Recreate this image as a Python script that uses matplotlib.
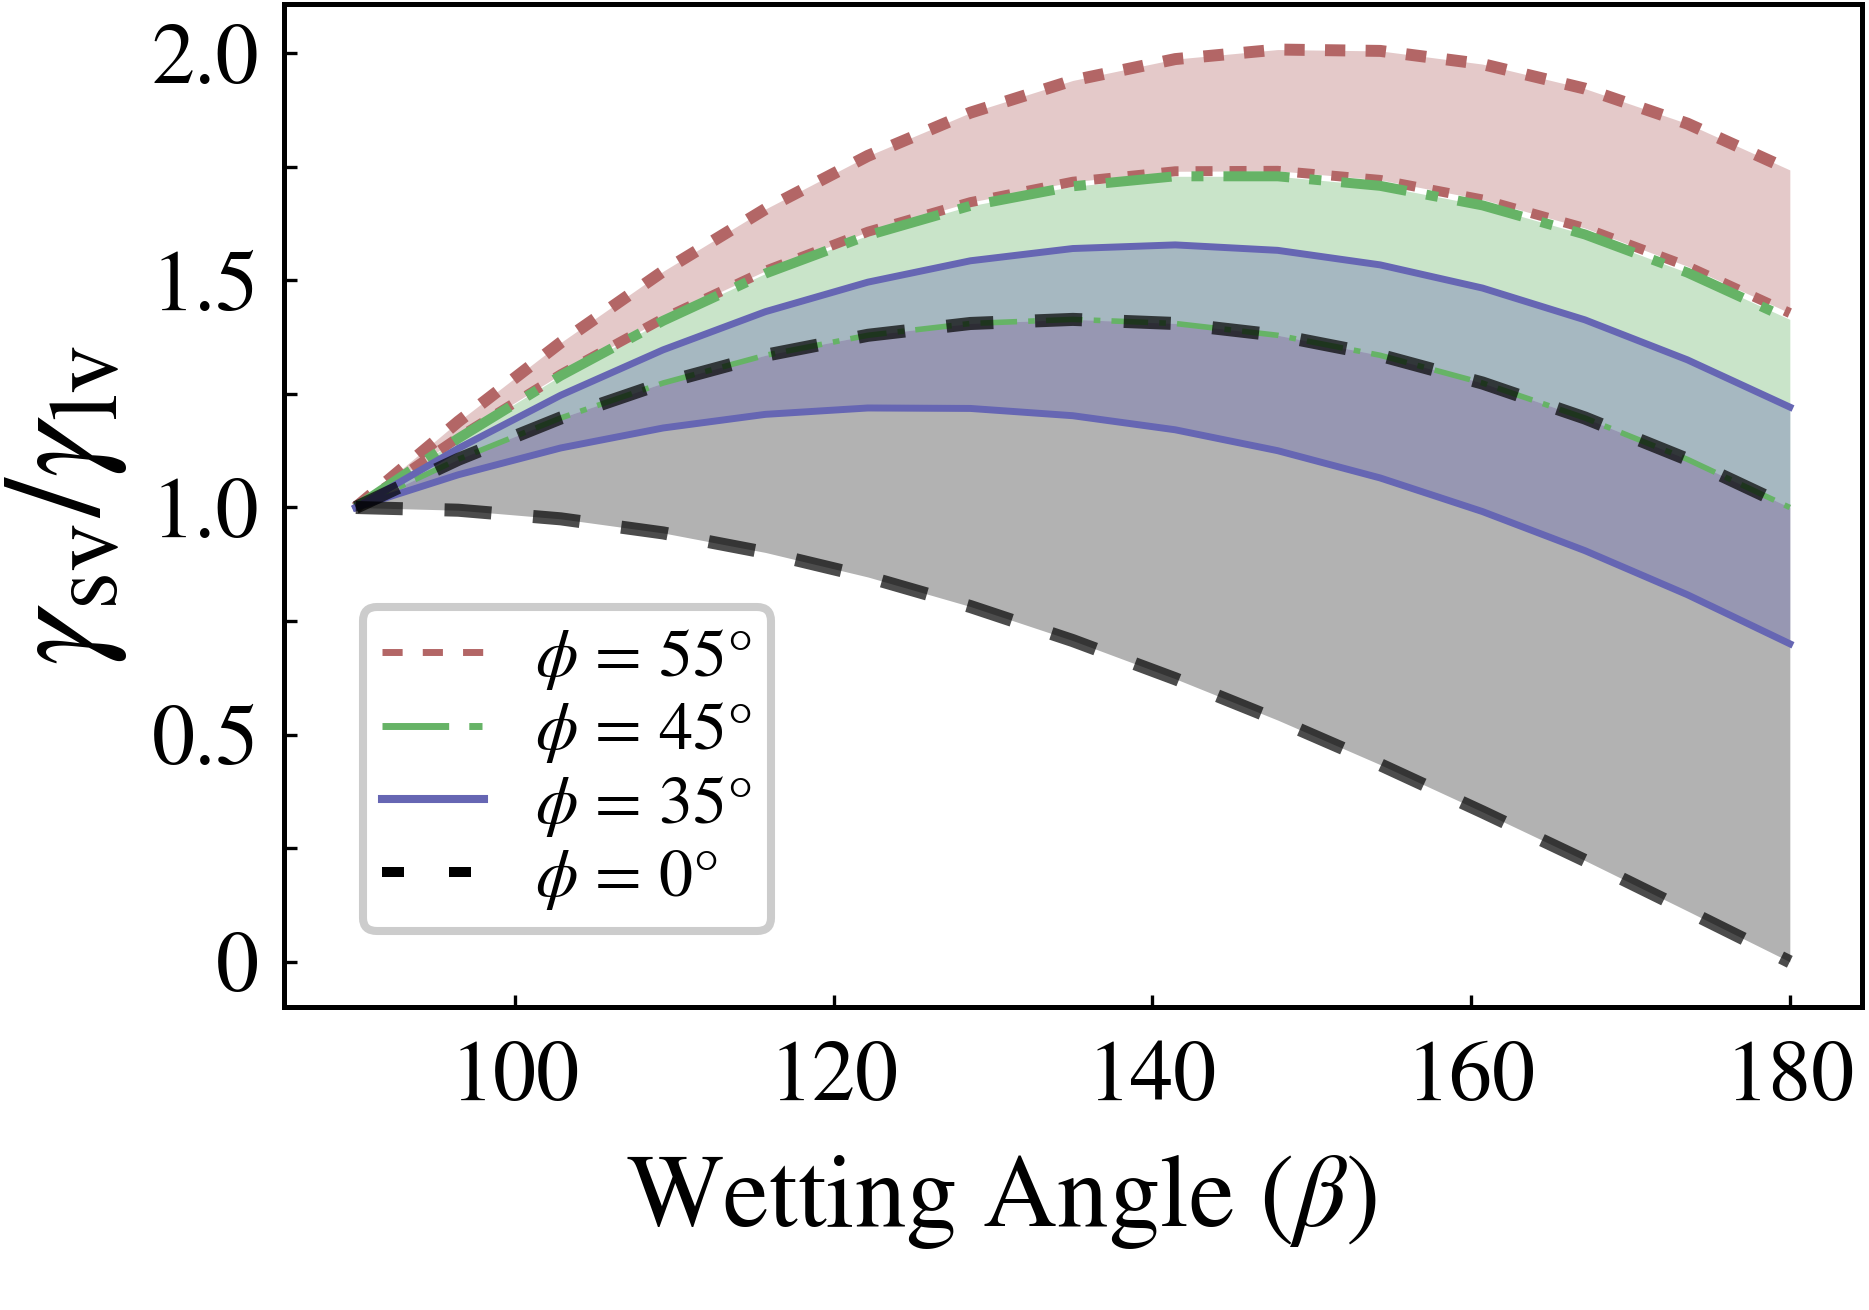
import numpy as np
import matplotlib
matplotlib.use('Agg')
import matplotlib.pyplot as plt
from matplotlib.lines import Line2D
from matplotlib.ticker import MultipleLocator, FuncFormatter

plt.rcParams['font.family'] = ['STIXGeneral', 'DejaVu Serif']
plt.rcParams['mathtext.fontset'] = 'stix'

# wetting angle samples (15 points, 90..180)
beta = [90.0, 96.43, 102.86, 109.29, 115.71, 122.14, 128.57, 135.0,
        141.43, 147.86, 154.29, 160.71, 167.14, 173.57, 180.0]

# gamma_sv / gamma_lv bounds for each phi
phi55_upper = [1.000, 1.189, 1.363, 1.520, 1.657, 1.774, 1.869, 1.940,
               1.987, 2.008, 2.005, 1.976, 1.922, 1.845, 1.743]
phi55_lower = [1.000, 1.154, 1.293, 1.416, 1.521, 1.607, 1.672, 1.717,
               1.740, 1.741, 1.721, 1.678, 1.615, 1.531, 1.428]
phi45_upper = [1.000, 1.152, 1.290, 1.411, 1.515, 1.599, 1.664, 1.707,
               1.729, 1.729, 1.708, 1.665, 1.601, 1.517, 1.414]
phi45_lower = [1.000, 1.106, 1.197, 1.274, 1.335, 1.379, 1.405, 1.414,
               1.405, 1.379, 1.335, 1.274, 1.197, 1.106, 1.000]
phi35_upper = [1.000, 1.130, 1.247, 1.347, 1.431, 1.496, 1.543, 1.570,
               1.578, 1.566, 1.534, 1.483, 1.413, 1.325, 1.221]
phi35_lower = [1.000, 1.072, 1.131, 1.175, 1.205, 1.219, 1.218, 1.202,
               1.171, 1.125, 1.065, 0.991, 0.905, 0.808, 0.700]
phi0_upper = [1.000, 1.106, 1.197, 1.274, 1.335, 1.379, 1.405, 1.414,
              1.405, 1.379, 1.335, 1.274, 1.197, 1.106, 1.000]
phi0_lower = [1.000, 0.994, 0.975, 0.944, 0.901, 0.847, 0.782, 0.707,
              0.623, 0.532, 0.434, 0.330, 0.223, 0.112, 0.000]

labels = [r'$\phi$ = 55°', r'$\phi$ = 45°', r'$\phi$ = 35°', r'$\phi$ = 0°']

red = '#b36666'
green = '#66b366'
blue = '#6666b3'
black = 'k'

fig = plt.figure(figsize=(9.345, 6.55), dpi=200)
ax = fig.add_axes([0.152, 0.231, 0.844, 0.766])

# shaded bands
ax.fill_between(beta, phi55_lower, phi55_upper, color=red, alpha=0.35, lw=0)
ax.fill_between(beta, phi45_lower, phi45_upper, color=green, alpha=0.35, lw=0)
ax.fill_between(beta, phi0_lower, phi0_upper, color=black, alpha=0.3, lw=0)
ax.fill_between(beta, phi35_lower, phi35_upper, color=blue, alpha=0.35, lw=0)

# bounding curves
ax.plot(beta, phi55_upper, color=red, lw=4.3, dashes=(1.7, 1.7), dash_capstyle='butt')
ax.plot(beta, phi55_lower, color=red, lw=3.6, dashes=(1.7, 1.7), dash_capstyle='butt')
ax.plot(beta, phi45_upper, color=green, lw=3.6, dashes=(6.6, 2, 1.2, 2), dash_capstyle='butt')
ax.plot(beta, phi45_lower, color=green, lw=2.0, dashes=(6.6, 2, 1.2, 2), dash_capstyle='butt')
ax.plot(beta, phi35_upper, color=blue, lw=2.5)
ax.plot(beta, phi35_lower, color=blue, lw=2.5)
ax.plot(beta, phi0_upper, color=black, alpha=0.7, lw=4.7, dashes=(3.6, 3.2), dash_capstyle='butt')
ax.plot(beta, phi0_lower, color=black, alpha=0.7, lw=4.7, dashes=(3.6, 3.2), dash_capstyle='butt')

ax.set_xticks([100, 120, 140, 160, 180])
ax.yaxis.set_major_locator(MultipleLocator(0.5))
ax.yaxis.set_minor_locator(MultipleLocator(0.25))
ax.yaxis.set_major_formatter(FuncFormatter(lambda v, p: '0' if abs(v) < 1e-9 else '%.1f' % v))
ax.tick_params(which='both', direction='in', length=4.5, width=1.2, labelsize=31)
ax.tick_params(axis='y', pad=9)
ax.tick_params(axis='x', pad=12)
for s in ax.spines.values():
    s.set_linewidth(1.8)

ax.set_xlabel(r'Wetting Angle ($\beta$)', fontsize=37, labelpad=12)
ax.xaxis.label.set_x(0.455)
ax.set_ylabel(r'$\gamma_{\rm sv}/\gamma_{\rm lv}$', fontsize=50, labelpad=8)

handles = [
    Line2D([], [], color=red, lw=2.5, dashes=(2.9, 2.9), dash_capstyle='butt'),
    Line2D([], [], color=green, lw=2.5, dashes=(9.6, 2.9, 1.9, 2.9), dash_capstyle='butt'),
    Line2D([], [], color=blue, lw=2.9),
    Line2D([], [], color=black, lw=3.6, dashes=(2.2, 4.5), dash_capstyle='butt'),
]
leg = ax.legend(handles, labels, loc='lower left', bbox_to_anchor=(0.05, 0.076),
                borderaxespad=0, fontsize=24.5, handlelength=1.5, handletextpad=0.75,
                labelspacing=0.13, borderpad=0.28,
                fancybox=True, framealpha=1, edgecolor='0.8')
leg.get_frame().set_linewidth(2.9)

fig.savefig('out.png', dpi=200)
